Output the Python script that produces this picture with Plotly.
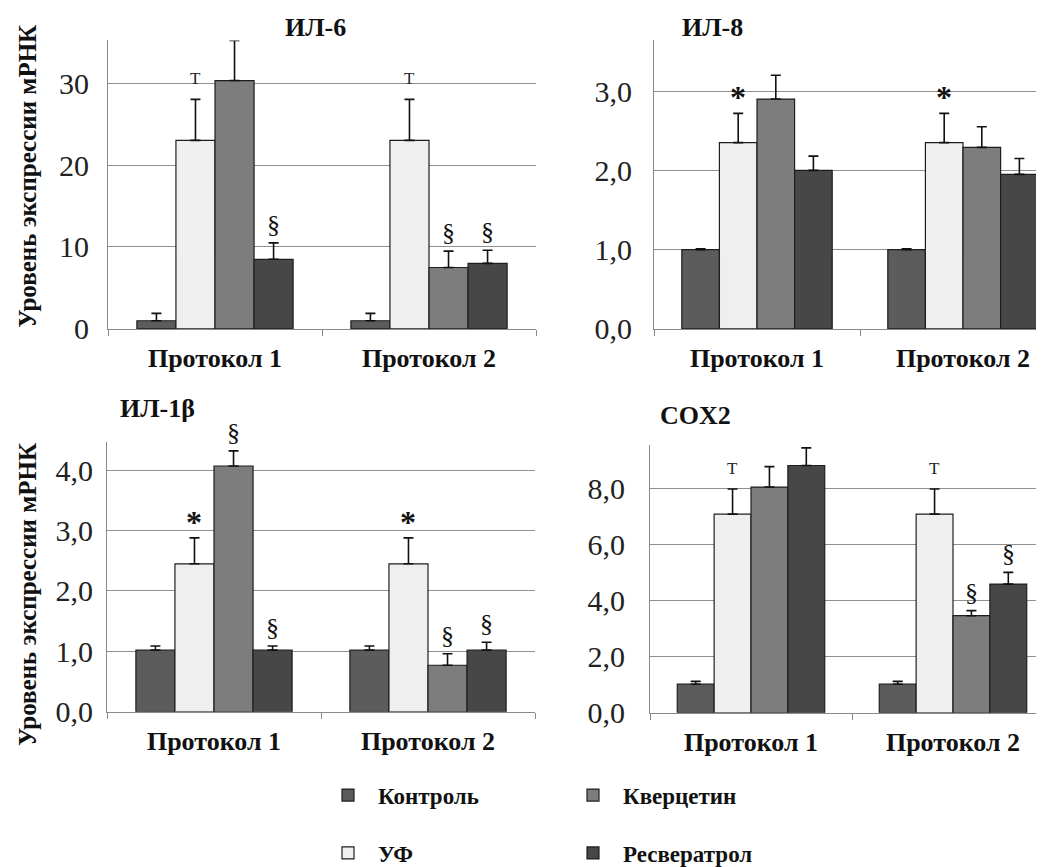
import plotly.graph_objects as go

categories = ["Протокол 1", "Протокол 2"]
series = ["Контроль", "УФ", "Кверцетин", "Ресвератрол"]
colors = ["#5c5c5c", "#efefef", "#7d7d7d", "#474747"]

# values per panel: series -> [Протокол 1, Протокол 2]
il6_means = {"Контроль": [1.0, 1.0], "УФ": [23.0, 23.0], "Кверцетин": [30.3, 7.5], "Ресвератрол": [8.5, 8.0]}
il6_err = {"Контроль": [0.9, 0.9], "УФ": [5.0, 5.0], "Кверцетин": [4.9, 2.0], "Ресвератрол": [2.0, 1.6]}
il8_means = {"Контроль": [1.0, 1.0], "УФ": [2.35, 2.35], "Кверцетин": [2.9, 2.29], "Ресвератрол": [2.0, 1.95]}
il8_err = {"Контроль": [0.01, 0.01], "УФ": [0.37, 0.37], "Кверцетин": [0.3, 0.26], "Ресвератрол": [0.18, 0.2]}
il1b_means = {"Контроль": [1.02, 1.02], "УФ": [2.45, 2.45], "Кверцетин": [4.07, 0.77], "Ресвератрол": [1.02, 1.02]}
il1b_err = {"Контроль": [0.07, 0.07], "УФ": [0.43, 0.43], "Кверцетин": [0.25, 0.19], "Ресвератрол": [0.07, 0.13]}
cox2_means = {"Контроль": [1.02, 1.02], "УФ": [7.1, 7.1], "Кверцетин": [8.07, 3.47], "Ресвератрол": [8.84, 4.6]}
cox2_err = {"Контроль": [0.1, 0.1], "УФ": [0.9, 0.9], "Кверцетин": [0.73, 0.18], "Ресвератрол": [0.63, 0.42]}

titles = ["ИЛ-6", "ИЛ-8", "ИЛ-1β", "COX2"]
yticks = [[0, 10, 20, 30], [0, 1, 2, 3], [0, 1, 2, 3, 4], [0, 2, 4, 6, 8]]
ytickformats = ["d", ".1f", ".1f", ".1f"]
yranges = [[0, 35.2], [0, 3.64], [0, 4.47], [0, 9.58]]

# significance marks: (series, category index, symbol)
il6_marks = [("УФ", 0, "T"), ("Ресвератрол", 0, "§"), ("УФ", 1, "T"), ("Кверцетин", 1, "§"), ("Ресвератрол", 1, "§")]
il8_marks = [("УФ", 0, "*"), ("УФ", 1, "*")]
il1b_marks = [("УФ", 0, "*"), ("Кверцетин", 0, "§"), ("Ресвератрол", 0, "§"),
              ("УФ", 1, "*"), ("Кверцетин", 1, "§"), ("Ресвератрол", 1, "§")]
cox2_marks = [("УФ", 0, "T"), ("УФ", 1, "T"), ("Кверцетин", 1, "§"), ("Ресвератрол", 1, "§")]

panels = [(il6_means, il6_err, il6_marks), (il8_means, il8_err, il8_marks),
          (il1b_means, il1b_err, il1b_marks), (cox2_means, cox2_err, cox2_marks)]

W, H = 1044, 867
def px_x(v): return v / W
def px_y(v): return (H - v) / H

x_domains = [[px_x(100), px_x(528)], [px_x(646), 1.0], [px_x(99), px_x(527)], [px_x(642), 1.0]]
x_ranges = [[-0.5, 1.5], [-0.5, -0.5 + 398 / 206], [-0.5, 1.5], [-0.5, -0.5 + 402 / 202]]
y_domains = [[px_y(327), px_y(33)], [px_y(327), px_y(33)], [px_y(717), px_y(442)], [px_y(718), px_y(445)]]
title_pos = [(307, 20), (704, 20), (149, 408), (687, 415)]
tick_standoffs = [12, 15, 7, 18]

SERIF = "Liberation Serif"
BARGAP = 0.27
fig = go.Figure()
annotations = []

for p, (means, errs, marks) in enumerate(panels):
    xa = "x" if p == 0 else f"x{p+1}"
    ya = "y" if p == 0 else f"y{p+1}"
    for s, name in enumerate(series):
        fig.add_trace(go.Bar(
            x=categories, y=means[name], name="<b>" + name + "</b>",
            marker=dict(color=colors[s], line=dict(color="#1e1e1e", width=1.2)),
            error_y=dict(type="data", symmetric=False, array=errs[name],
                         arrayminus=[0] * len(categories), color="#111", thickness=1.6, width=5),
            xaxis=xa, yaxis=ya, showlegend=(p == 0),
            legend="legend" if s in (0, 1) else "legend2",
            legendgroup=name, legendrank=s,
        ))
    bw = (1 - BARGAP) / len(series)
    for name, ci, sym in marks:
        s = series.index(name)
        top = means[name][ci] + errs[name][ci]
        xpos = ci + (s - 1.5) * bw
        if sym == "T":
            annotations.append(dict(x=xpos, y=top, xref=xa, yref=ya, text="T", showarrow=False,
                                    yanchor="bottom", yshift=9,
                                    font=dict(family=SERIF, size=17, color="#222")))
        elif sym == "*":
            annotations.append(dict(x=xpos, y=top, xref=xa, yref=ya, text="<b>*</b>", showarrow=False,
                                    yanchor="bottom", yshift=-4,
                                    font=dict(family=SERIF, size=32, color="#111")))
        else:
            annotations.append(dict(x=xpos, y=top, xref=xa, yref=ya, text="§", showarrow=False,
                                    yanchor="bottom", yshift=2,
                                    font=dict(family=SERIF, size=26, color="#111")))
    tx, ty = title_pos[p]
    annotations.append(dict(x=px_x(tx), y=px_y(ty), xref="paper", yref="paper", text="<b>" + titles[p] + "</b>",
                            showarrow=False, xanchor="center", yanchor="middle",
                            font=dict(family=SERIF, size=26, color="#111")))

    axis_common = dict(showline=True, linecolor="#8a8a8a", linewidth=1.2)
    fig.update_layout(**{
        ("xaxis" if p == 0 else f"xaxis{p+1}"): dict(
            domain=x_domains[p], range=x_ranges[p], type="category", anchor=ya,
            tickson="boundaries", ticks="outside", ticklen=6, tickcolor="#8a8a8a",
            tickfont=dict(family=SERIF, size=26, color="#111"),
            tickprefix="<b>", ticksuffix="</b>", ticklabelstandoff=6,
            showgrid=False, fixedrange=True, **axis_common),
        ("yaxis" if p == 0 else f"yaxis{p+1}"): dict(
            domain=y_domains[p], range=yranges[p], anchor=xa,
            tickvals=yticks[p], tickformat=ytickformats[p], ticks="",
            tickfont=dict(family=SERIF, size=30, color="#222"), ticklabelstandoff=tick_standoffs[p],
            showgrid=True, gridcolor="#8f8f8f", gridwidth=1.2, zeroline=False, **axis_common),
    })

for yc in (172, 598):
    annotations.append(dict(x=px_x(20), y=px_y(yc), xref="paper", yref="paper",
                            text="<b>Уровень экспрессии мРНК</b>", textangle=-90, showarrow=False,
                            xanchor="center", yanchor="middle",
                            font=dict(family=SERIF, size=25, color="#111")))

legend_common = dict(orientation="v", yanchor="top", xanchor="left", bgcolor="rgba(0,0,0,0)",
                     font=dict(family=SERIF, size=23, color="#111"), tracegroupgap=25,
                     itemwidth=50, traceorder="grouped")
fig.update_layout(
    width=W, height=H, margin=dict(l=0, r=0, t=0, b=0),
    paper_bgcolor="white", plot_bgcolor="white",
    barmode="group", bargap=BARGAP, bargroupgap=0,
    separators=", ",
    annotations=annotations,
    legend=dict(x=px_x(310), y=px_y(780), **legend_common),
    legend2=dict(x=px_x(555), y=px_y(780), **legend_common),
)
fig.write_html("out.html")
